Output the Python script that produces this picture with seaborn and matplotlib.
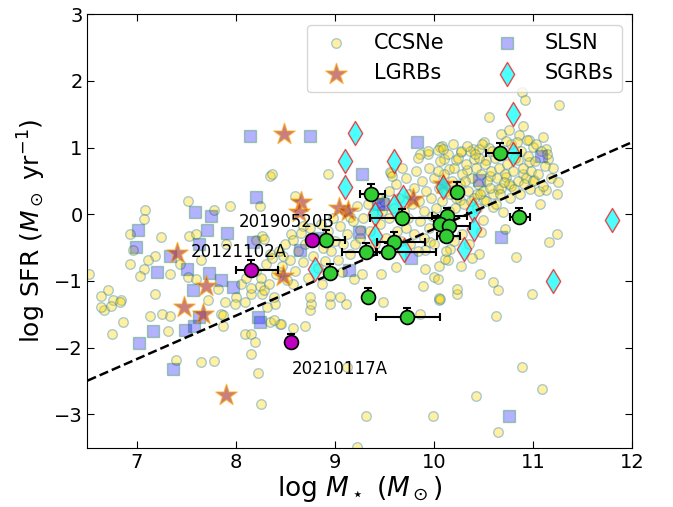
import numpy as np
import matplotlib
matplotlib.use("Agg")
import matplotlib.pyplot as plt
import seaborn as sns

# core-collapse SN hosts
ccsn_mass = [
    7.52, 7.08, 7.07, 7.78, 7.94, 8.24, 8.34, 6.93, 7.24, 7.53, 7.60, 7.90, 8.20, 8.26, 6.96, 7.18,
    7.11, 6.93, 7.07, 7.03, 7.33, 7.43, 7.65, 7.52, 6.52, 6.71, 6.64, 6.76, 6.84, 6.67, 7.18, 7.82,
    7.72, 7.89, 8.00, 8.09, 8.15, 8.24, 8.26, 7.13, 7.25, 7.33, 7.85, 7.60,
    6.64, 6.74, 6.83, 6.86, 6.75, 7.31, 7.39, 7.65, 7.78, 7.87, 7.87, 8.09, 8.15, 8.19, 8.15, 8.22,
    8.25, 8.34, 8.44, 7.99, 8.39,
    9.49, 10.05, 10.63, 10.89, 11.09, 10.42, 9.99, 9.31, 10.65, 9.22, 9.12, 8.70, 8.58, 8.45, 8.38,
    8.75, 8.76, 8.95, 9.11,
    11.24, 11.16, 10.83, 10.46, 10.38, 10.27, 10.16, 10.14, 10.05, 9.91, 10.00, 10.47, 10.60, 10.65,
    10.23, 10.05, 10.99, 10.48, 9.96,
    10.89, 10.92, 11.26, 10.56, 10.90, 10.68, 10.76, 10.86, 10.96, 11.10, 11.13, 11.00, 10.51, 10.39,
    10.27, 10.08, 10.40, 10.53, 10.85, 10.96, 11.15, 10.90, 10.73, 10.57, 10.33, 10.15, 10.10, 10.22,
    10.65, 10.78, 11.01, 11.13, 11.24, 11.07, 10.70, 10.60, 10.50, 10.72, 10.26, 10.43, 10.51,
    8.36, 8.93, 8.60, 9.94, 10.06, 8.28, 8.34, 8.48, 8.56, 8.68, 9.15, 9.25, 9.07, 8.87, 8.75, 8.95,
    9.05, 9.19, 9.27, 9.47, 9.62, 10.04, 10.06, 9.89, 10.23, 9.86, 9.91, 10.11, 8.44, 8.58, 8.38,
    8.31, 8.28, 9.57, 9.56, 9.86, 10.04, 10.46,
    9.50, 9.55, 9.60, 9.62, 9.65, 9.70, 9.72, 9.75, 9.78, 9.80, 9.82, 9.85, 9.88, 9.90, 9.92, 9.95,
    9.97, 10.00, 10.02, 10.05, 10.06, 10.08, 10.10, 10.12, 10.14, 10.15, 10.18, 10.20, 10.22, 10.24,
    10.26, 10.28, 10.30, 10.32, 10.34, 10.36, 10.38, 10.40, 10.42, 10.44, 10.46, 10.48, 10.50, 10.52,
    10.54, 10.56, 10.58, 10.60, 10.62, 10.64, 10.66, 10.68, 10.70, 10.72, 10.74, 10.76, 10.78, 10.80,
    10.82, 10.85, 10.88, 10.90, 10.93, 10.95, 10.98, 11.02, 11.05, 11.08, 11.12, 11.18,
    9.58, 9.68, 9.74, 9.84, 9.86, 9.94, 9.98, 10.04, 10.09, 10.16, 10.19, 10.21, 10.27, 10.31, 10.33,
    10.37, 10.41, 10.43, 10.47, 10.49, 10.53, 10.57, 10.59, 10.63, 10.67, 10.71, 10.73, 10.77, 10.81,
    10.84, 10.87, 10.91, 10.94, 10.97, 11.00, 11.03, 11.06, 11.10, 11.14, 11.20, 11.25,
    8.05, 8.10, 8.15, 8.20, 8.25, 8.30, 8.33, 8.36, 8.40, 8.43, 8.46, 8.50, 8.52, 8.55, 8.58, 8.60,
    8.63, 8.66, 8.68, 8.70, 8.73, 8.75, 8.78, 8.80, 8.83, 8.86, 8.88, 8.90, 8.93, 8.96, 8.98, 9.00,
    9.03, 9.05, 9.08, 9.10, 9.12, 9.15, 9.18, 9.20, 9.22, 9.25, 9.28, 9.30, 9.33, 9.35, 9.38, 9.40,
    9.43, 9.45, 9.48, 9.52, 9.55, 9.58, 9.63, 9.67, 9.72, 9.76, 9.80, 9.84, 9.90, 9.95, 10.00, 10.08,
    10.12, 10.20, 10.28, 10.35,
]
ccsn_sfr = [
    0.20, 0.07, -0.07, 0.07, 0.12, 0.13, 0.58, -0.30, -0.34, -0.33, -0.30, -0.44, -0.38, -0.32, -0.54, -0.62,
    -0.69, -0.75, -0.82, -0.93, -0.89, -0.74, -0.69, -0.94, -0.90, -1.14, -1.22, -1.28, -1.29, -1.44, -1.20, -1.12,
    -1.29, -1.32, -1.24, -1.32, -1.19, -1.07, -1.19, -1.53, -1.49, -1.53, -1.49, -0.97,
    -1.39, -1.37, -1.32, -1.62, -1.79, -1.75, -2.19, -2.22, -2.20, -1.67, -1.51, -1.79, -1.79, -1.92, -2.09, -2.38,
    -2.84, -1.62, -1.64, -1.34, -1.34,
    -1.32, -1.29, -1.52, -2.29, -2.62, -2.73, -3.02, -3.02, -3.27, -3.49, -2.29, -1.67, -1.70, -1.65, -1.59,
    -1.44, -1.35, -1.35, -1.35,
    -0.29, -0.42, -0.64, -0.60, -0.65, -0.77, -0.52, -0.69, -0.78, -0.82, -0.94, -0.89, -1.02, -1.14,
    -1.19, -1.26, -1.20, -0.27, -0.42,
    1.83, 1.72, 1.64, 1.46, 1.33, 1.20, 1.26, 1.19, 1.11, 1.16, 0.98, 1.01, 1.08, 0.98,
    0.93, 1.02, 0.83, 0.81, 0.81, 0.78, 0.83, 0.61, 0.56, 0.58, 0.66, 0.68, 0.83, 0.81,
    0.38, 0.43, 0.51, 0.36, 0.31, 0.16, 0.03, 0.11, -0.09, -0.22, 0.21, 0.31, 0.21,
    0.61, 0.61, 0.28, 0.91, 1.01, -0.37, -0.59, -0.62, -0.29, -0.17, -0.04, -0.24, -0.87, -1.04, -1.24, -1.22,
    -1.24, -0.97, -0.89, -0.89, -0.79, -0.97, -1.27, -1.07, -1.12, -1.49, -0.54, -0.67, -0.87, -1.04, -1.24,
    -1.39, -1.14, 0.62, 0.63, 0.91, 0.96, 0.98,
    0.20, 0.35, 0.10, 0.45, 0.25, 0.05, 0.55, 0.30, 0.15, 0.40, 0.65, 0.20, 0.50, 0.05, 0.35, 0.70,
    0.25, 0.55, 0.10, 0.40, 0.80, 0.20, 0.60, 0.35, 0.90, 0.05, 0.50, 0.70, 0.25, 0.85,
    0.45, 0.60, 0.15, 0.75, 0.35, 0.95, 0.55, 0.25, 0.70, 0.45, 0.85, 0.60, 0.35, 0.75,
    0.50, 1.00, 0.65, 0.30, 0.85, 0.55, 0.70, 0.40, 0.90, 0.60, 0.75, 0.45, 1.05, 0.65,
    0.85, 0.50, 0.95, 0.70, 0.55, 0.88, 0.65, 0.80, 0.60, 0.95, 0.72, 0.55,
    0.58, 0.70, -0.05, 0.85, -0.10, 0.95, -0.02, 0.65, 0.98, 0.30, 1.05, 0.10, 0.95, 0.50, 1.02,
    0.20, 0.90, 0.10, 0.30, 1.05, 0.20, 0.40, 0.95, 0.15, 0.30, 0.48, 1.10, 0.25, 0.38,
    1.08, 0.30, 0.45, 1.12, 0.38, 0.50, 1.05, 0.35, 0.42, 0.90, 0.70, 0.48,
    -1.05, -0.95, -1.10, -0.85, -0.95, -0.75, -1.05, -0.65, -0.90, -0.55, -0.78, -0.45, -0.98, -0.68, -0.38, -0.85,
    -0.55, -0.28, -0.72, -0.45, -0.95, -0.20, -0.62, -0.35, -0.80, -0.15, -0.50, -0.70, -0.25, -0.55, -0.05, -0.40,
    -0.68, -0.18, -0.45, 0.05, -0.30, -0.60, -0.10, -0.45, 0.12, -0.35, -0.05, -0.55, 0.15, -0.25, 0.02, -0.45,
    0.25, -0.15, 0.05, -0.35, -0.05, -0.55, -0.25, -0.40, -0.20, -0.45, -0.30, -0.55, -0.35, -0.20, -0.45, -0.30,
    -0.55, -0.40, -0.30, -0.45,
]

# superluminous SN hosts
slsn_mass = [8.14, 8.75, 9.83, 9.27, 11.08, 8.20, 7.59, 7.75, 7.01, 7.71, 7.91, 6.99, 7.63, 8.17,
             7.33, 7.51, 7.20, 7.73, 7.85, 7.97, 7.57, 8.22, 7.02, 7.16, 7.48, 7.58, 7.63, 7.36,
             8.24, 10.76, 10.45, 10.68, 8.65, 8.83, 9.24, 9.77, 9.14, 9.43, 9.49]
slsn_sfr = [1.17, 1.17, 1.08, 0.61, 0.88, 0.26, 0.03, -0.03, -0.24, -0.24, -0.28, -0.49, -0.45, -0.42,
            -0.63, -0.82, -0.87, -0.88, -0.98, -1.09, -1.14, -1.54, -1.93, -1.75, -1.73, -1.68, -1.54, -2.32,
            -1.62, -3.02, 0.52, -0.34, -0.54, -0.35, -0.27, -0.65, -0.84, 0.16, 0.16]

# long GRB hosts
lgrb_mass = [8.49, 8.66, 8.64, 9.04, 9.13, 9.79, 10.09, 7.40, 8.48, 7.70, 7.47, 7.67, 7.90]
lgrb_sfr = [1.21, 0.19, 0.03, 0.09, 0.05, 0.23, 0.46, -0.58, -0.93, -1.07, -1.39, -1.49, -2.71]

# short GRB hosts
sgrb_mass = [9.20, 9.10, 9.60, 9.10, 9.40, 9.60, 9.69, 9.40, 9.70, 8.80, 10.09, 10.39, 10.40,
             10.30, 10.80, 10.80, 11.20, 11.80]
sgrb_sfr = [1.22, 0.80, 0.80, 0.41, 0.00, 0.13, 0.26, -0.32, -0.54, -0.82, 0.41, 0.06, -0.22,
            -0.52, 0.91, 1.50, -1.00, -0.09]

# this sample (green) with asymmetric errors
host_mass = [10.67, 9.36, 10.23, 9.68, 10.13, 10.06, 10.15, 10.12, 10.86, 8.91, 9.60, 9.31, 9.54,
             8.95, 9.33, 9.73]
host_sfr = [0.92, 0.30, 0.34, -0.06, -0.02, -0.15, -0.18, -0.32, -0.04, -0.38, -0.41, -0.57, -0.57,
            -0.88, -1.24, -1.54]
host_mass_lo = [0.14, 0.11, 0.0, 0.33, 0.15, 0.06, 0.05, 0.09, 0.09, 0.05, 0.18, 0.24, 0.12, 0.0, 0.0, 0.32]
host_mass_hi = [0.21, 0.15, 0.0, 0.36, 0.20, 0.06, 0.21, 0.14, 0.11, 0.19, 0.31, 0.10, 0.48, 0.0, 0.0, 0.33]
host_sfr_lo = [0.08] * 16
host_sfr_hi = [0.15, 0.15, 0.14, 0.14, 0.12, 0.12, 0.12, 0.12, 0.14, 0.14, 0.14, 0.14, 0.14, 0.14, 0.14, 0.14]

# highlighted FRB hosts (magenta)
frb_names = ["20121102A", "20190520B", "20210117A"]
frb_mass = [8.15, 8.77, 8.56]
frb_sfr = [-0.83, -0.38, -1.92]
frb_mass_lo = [0.15, 0.0, 0.0]
frb_mass_hi = [0.27, 0.0, 0.0]
frb_sfr_lo = [0.08, 0.0, 0.08]
frb_sfr_hi = [0.15, 0.0, 0.12]
label_pos = [(8.51, -0.57, "right"), (9.00, -0.12, "right"), (8.56, -2.32, "left")]

# star-forming main sequence
ms_slope, ms_intercept = 0.65, -6.72
ms_mass = np.array([6.5, 12.0])

fig, ax = plt.subplots(figsize=(6.73, 5.07), dpi=100)
fig.subplots_adjust(left=0.13, right=0.939, bottom=0.117, top=0.972)

sns.scatterplot(x=ccsn_mass, y=ccsn_sfr, ax=ax, marker="o", s=48, color="gold",
                edgecolor="tab:blue", linewidth=1.0, alpha=0.36, label="CCSNe", zorder=1)
sns.scatterplot(x=slsn_mass, y=slsn_sfr, ax=ax, marker="s", s=80, color="blue",
                edgecolor="green", linewidth=1.0, alpha=0.3, label="SLSN", zorder=2)
sns.scatterplot(x=lgrb_mass, y=lgrb_sfr, ax=ax, marker="*", s=260, color="brown",
                edgecolor="orange", linewidth=1.0, alpha=0.6, label="LGRBs", zorder=3)
sns.scatterplot(x=sgrb_mass, y=sgrb_sfr, ax=ax, marker="d", s=150, color="cyan",
                edgecolor="red", linewidth=1.0, alpha=0.7, label="SGRBs", zorder=4)

ax.plot(ms_mass, ms_slope * ms_mass + ms_intercept, "k--", lw=1.8, zorder=5)

ax.errorbar(host_mass, host_sfr, xerr=[host_mass_lo, host_mass_hi],
            yerr=[host_sfr_lo, host_sfr_hi], fmt="none", ecolor="k", elinewidth=1.5,
            capsize=3, capthick=1.5, zorder=6)
sns.scatterplot(x=host_mass, y=host_sfr, ax=ax, marker="o", s=100, color="limegreen",
                edgecolor="k", linewidth=1.2, zorder=7, legend=False)

ax.errorbar(frb_mass, frb_sfr, xerr=[frb_mass_lo, frb_mass_hi],
            yerr=[frb_sfr_lo, frb_sfr_hi], fmt="none", ecolor="k", elinewidth=1.5,
            capsize=3, capthick=1.5, zorder=6)
sns.scatterplot(x=frb_mass, y=frb_sfr, ax=ax, marker="o", s=100, color="m",
                edgecolor="k", linewidth=1.2, zorder=7, legend=False)

for name, (tx, ty, ha) in zip(frb_names, label_pos):
    ax.text(tx, ty, name, ha=ha, va="center", fontsize=12, zorder=8)

ax.set_xlim(6.5, 12)
ax.set_ylim(-3.5, 3)
ax.set_xticks([7, 8, 9, 10, 11, 12])
ax.set_yticks([-3, -2, -1, 0, 1, 2, 3])
ax.tick_params(direction="in", top=True, right=True, labelsize=14, length=5)
ax.set_xlabel(r"log $M_\star$ ($M_\odot$)", fontsize=19, labelpad=2)
ax.set_ylabel(r"log SFR ($M_\odot$ yr$^{-1}$)", fontsize=18)

handles, labels = ax.get_legend_handles_labels()
order = [labels.index(k) for k in ["CCSNe", "LGRBs", "SLSN", "SGRBs"]]
ax.legend([handles[i] for i in order], [labels[i] for i in order], ncol=2,
          loc="upper right", fontsize=15)

fig.savefig("out.png", dpi=100)
